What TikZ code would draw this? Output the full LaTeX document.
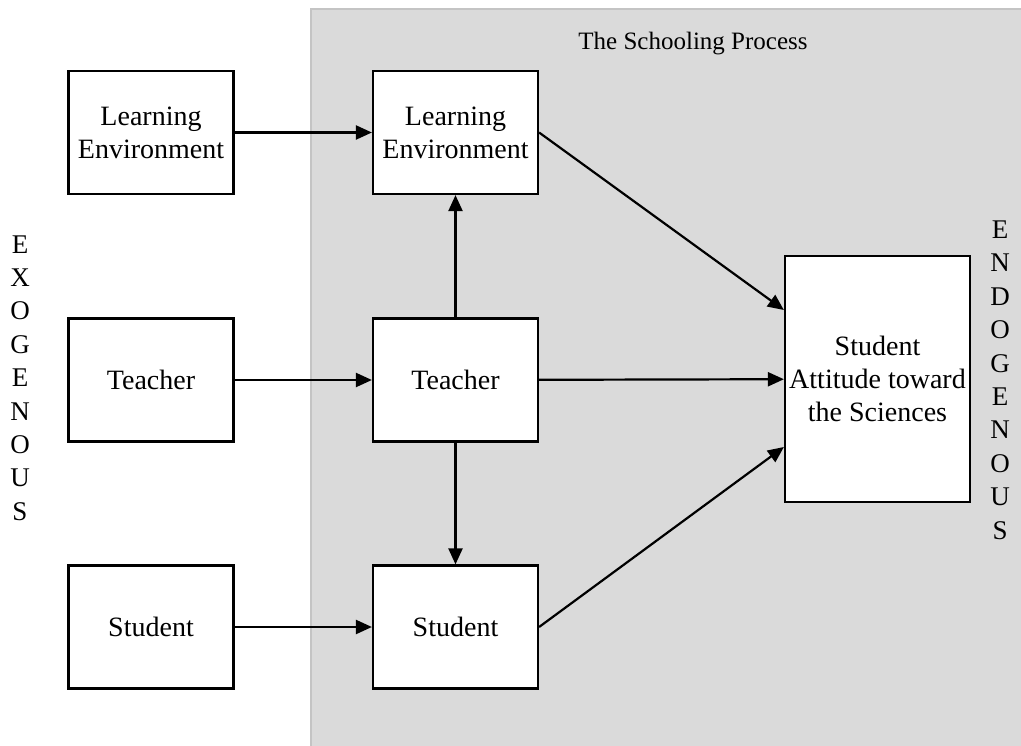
\documentclass[tikz,border=0pt]{standalone}
\usepackage{fontspec}
\setmainfont{Liberation Serif}
\usetikzlibrary{arrows.meta}
\definecolor{procgray}{HTML}{DADADA}
\definecolor{procedge}{HTML}{C4C4C4}
\begin{document}
\begin{tikzpicture}[x=1pt,y=-1pt,
  txt/.style={font=\fontsize{28}{33}\selectfont},
  box/.style={txt,draw,line width=2.2pt,fill=white,minimum width=165pt,minimum height=123pt,align=center,inner sep=0pt},
  arr/.style={-{Triangle[length=16pt,width=14pt]},line width=2.2pt},
  vert/.style={font=\fontsize{27}{33.4}\selectfont,align=center,inner sep=0pt}]
\useasboundingbox (0,0) rectangle (1021,746);
\fill[procgray] (311,9) rectangle (1021,746);
\draw[procedge,line width=1.5pt] (311,746) -- (311,9) -- (1021,9);
\node[font=\fontsize{25}{30}\selectfont] (title) at (693,44) {The Schooling Process};
\node[box] (lLE) at (151,132.5) {Learning\\Environment};
\node[box] (lT) at (151,380) {Teacher};
\node[box] (lS) at (151,627) {Student};
\node[box] (mLE) at (455.5,132.5) {Learning\\Environment};
\node[box] (mT) at (455.5,380) {Teacher};
\node[box] (mS) at (455.5,627) {Student};
\node[box,minimum width=185pt,minimum height=246pt] (R) at (877.5,379) {Student\\Attitude toward\\the Sciences};
\node[vert] (exo) at (20,378) {E\\X\\O\\G\\E\\N\\O\\U\\S};
\node[vert] (endo) at (1000,380) {E\\N\\D\\O\\G\\E\\N\\O\\U\\S};
\draw[arr] (lLE) -- (mLE);
\draw[arr] (lT) -- (mT);
\draw[arr] (lS) -- (mS);
\draw[arr] (mT) -- (mLE);
\draw[arr] (mT) -- (mS);
\draw[arr] (mLE.east) -- ([yshift=69pt]R.west);
\draw[arr] (mT) -- (R);
\draw[arr] (mS.east) -- ([yshift=-68pt]R.west);
\end{tikzpicture}
\end{document}
